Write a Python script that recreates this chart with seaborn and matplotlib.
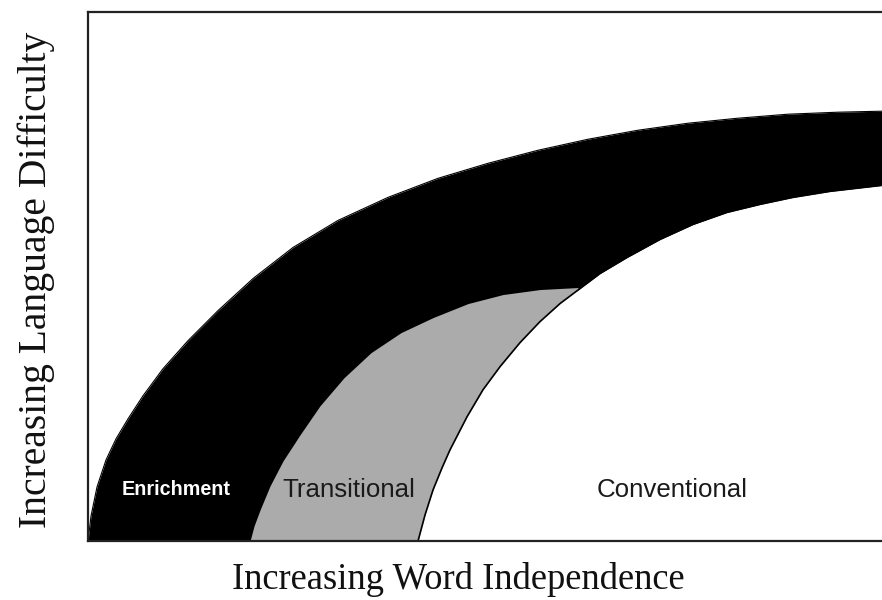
import numpy as np
import pandas as pd
import seaborn as sns
import matplotlib.pyplot as plt

# Curve readings (x = distance right of the y axis, y = height above the x axis)
# Outer edge of the black "Enrichment" band
outer_x = [0, 3, 9, 18, 28, 40, 55, 75, 100, 130, 165, 205, 250, 300, 350, 400,
           450, 500, 550, 600, 650, 700, 750, 794]
outer_y = [0, 25, 54, 81, 102, 122, 145, 172, 200, 230, 262, 293, 320, 343, 362, 377,
           390, 401, 410, 417, 422, 426, 428, 429]

# Top edge of the gray "Transitional" region
trans_x = [162, 166, 172, 182, 195, 212, 232, 256, 283, 313, 345, 380, 415, 452, 490]
trans_y = [0, 15, 31, 55, 80, 106, 135, 163, 188, 208, 223, 237, 246, 251, 253]

# Edge of the white "Conventional" region
conv_x = [330, 337, 345, 354, 362, 379, 395, 412, 432, 452, 472, 492, 512, 539,
          572, 605, 639, 672, 705, 742, 794]
conv_y = [0, 26, 51, 73, 91, 124, 151, 174, 198, 219, 237, 252, 267, 283,
          301, 316, 328, 336, 343, 349, 355]

# Region labels and their positions
region_names = ['Enrichment', 'Transitional', 'Conventional']
label_x = [88, 261, 584]
label_y = [51, 51, 51]

sns.set_style('white')

fig = plt.figure(figsize=(8.82, 6.0), dpi=100)
ax = fig.add_axes([0.0998, 0.0983, 0.9002, 0.8817])

outer = pd.DataFrame({'x': outer_x, 'y': outer_y})
trans = pd.DataFrame({'x': trans_x, 'y': trans_y})
conv = pd.DataFrame({'x': conv_x, 'y': conv_y})

# layered fills: black band, gray wedge, white interior
ax.fill_between(outer['x'], 0, outer['y'], color='black', lw=0)
ax.fill_between(trans['x'], 0, trans['y'], color='#ababab', lw=0)
ax.fill_between(conv['x'], 0, conv['y'], color='white', lw=0)

sns.lineplot(data=outer, x='x', y='y', color='black', lw=0.8, ax=ax)
sns.lineplot(data=conv, x='x', y='y', color='black', lw=1.2, ax=ax)

ax.text(label_x[0], label_y[0], region_names[0], color='white', fontsize=14.2,
        fontweight='bold', ha='center', va='center', family='Liberation Sans')
ax.text(label_x[1], label_y[1], region_names[1], color='#1a1a1a', fontsize=18.6,
        ha='center', va='center', family='Liberation Sans')
ax.text(label_x[2], label_y[2], region_names[2], color='#1a1a1a', fontsize=18.6,
        ha='center', va='center', family='Liberation Sans')

ax.set_xlim(0, 794)
ax.set_ylim(0, 528)
ax.set_xticks([])
ax.set_yticks([])
ax.set_xlabel('Increasing Word Independence', family='Liberation Serif',
              fontsize=26.3, va='center', color='#111111')
ax.set_ylabel('Increasing Language Difficulty', family='Liberation Serif',
              fontsize=28.5, va='center', color='#111111')
ax.xaxis.set_label_coords(0.466, -0.072)
ax.yaxis.set_label_coords(-0.065, 0.494)

for side in ['left', 'top', 'bottom']:
    ax.spines[side].set_color('#222222')
    ax.spines[side].set_linewidth(1.6)
ax.spines['right'].set_visible(False)

plt.savefig('out.png', dpi=100)
plt.close()
